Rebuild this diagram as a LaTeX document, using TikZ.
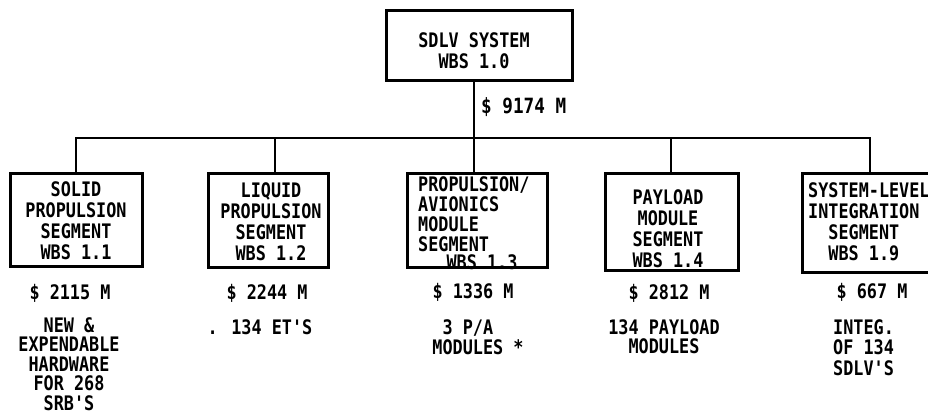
\documentclass[tikz,border=0pt]{standalone}
\usepackage{fontspec}
\newfontfamily\wbsfont[FakeStretch=0.84]{DejaVu Sans Mono}
\begin{document}
\begin{tikzpicture}[x=1pt,y=-1pt,
  every node/.style={inner sep=0pt},
  txt/.style={align=center, font=\wbsfont\bfseries\fontsize{20}{21}\selectfont},
  txtl/.style={align=left, font=\wbsfont\bfseries\fontsize{20}{20}\selectfont},
  lab/.style={align=center, font=\wbsfont\bfseries\fontsize{20}{19.5}\selectfont},
  labl/.style={align=left, font=\wbsfont\bfseries\fontsize{20}{20.5}\selectfont},
  box/.style={draw, line width=3pt, rectangle},
  conn/.style={line width=2pt}]
\useasboundingbox (0,0) rectangle (928,416);
\fill[white] (0,0) rectangle (928,416);

% boxes
\node[box, minimum width=186pt, minimum height=70pt] (top) at (479,45) {};
\node[box, minimum width=132pt, minimum height=93pt] (b1) at (76,219.5) {};
\node[box, minimum width=120pt, minimum height=94pt] (b2) at (268,220) {};
\node[box, minimum width=140pt, minimum height=94pt] (b3) at (477,220) {};
\node[box, minimum width=133pt, minimum height=97pt] (b4) at (671.5,221.5) {};
\node[box, minimum width=134pt, minimum height=99pt] (b5) at (869,222.5) {};

% box texts
\node[txt] (t0) at (474,51) {SDLV SYSTEM\\WBS 1.0};
\node[txt] (t1) at (76,221) {SOLID\\PROPULSION\\SEGMENT\\WBS 1.1};
\node[txt] (t2) at (271,222) {LIQUID\\PROPULSION\\SEGMENT\\WBS 1.2};
\node[txtl, anchor=west] (t3) at (418,214) {PROPULSION/\\AVIONICS\\MODULE\\SEGMENT};
\node[txt] (t3b) at (482,262) {WBS 1.3};
\node[txt] (t4) at (668,228.5) {PAYLOAD\\MODULE\\SEGMENT\\WBS 1.4};
\node[txt, align=left, anchor=west] (t5) at (808,221.5) {SYSTEM-LEVEL\\INTEGRATION\\\phantom{XX}SEGMENT\\\phantom{XX}WBS 1.9};

% connectors
\coordinate (j1) at (76,138);
\coordinate (j2) at (275,138);
\coordinate (j3) at (474,138);
\coordinate (j4) at (671,138);
\coordinate (j5) at (870,138);
\draw[conn] (j1 |- b1.north) -- (j1) -- (j5) -- (j5 |- b5.north);
\draw[conn] (j3 |- top.south) -- (j3) -- (j3 |- b3.north);
\draw[conn] (j2) -- (j2 |- b2.north);
\draw[conn] (j4) -- (j4 |- b4.north);

% labels
\node[lab, anchor=west, font=\wbsfont\bfseries\fontsize{21}{21}\selectfont] (c0) at (481,107) {\$ 9174 M};
\node[lab] (c1) at (70,293) {\$ 2115 M};
\node[lab] (c2) at (267,293) {\$ 2244 M};
\node[lab] (c3) at (473,292) {\$ 1336 M};
\node[lab] (c4) at (669,293) {\$ 2812 M};
\node[lab] (c5) at (872,292) {\$ 667 M};

\node[lab] (d1) at (69,364) {NEW \&\\EXPENDABLE\\HARDWARE\\FOR 268\\SRB'S};
\node[lab] (d2) at (260,327) {. 134 ET'S};
\node[lab] (d3) at (478,337) {3 P/A\phantom{ *}\\MODULES *};
\node[lab] (d4) at (664,336.5) {134 PAYLOAD\\MODULES};
\node[labl, anchor=west] (d5) at (833,347.5) {INTEG.\\OF 134\\SDLV'S};
\end{tikzpicture}
\end{document}
